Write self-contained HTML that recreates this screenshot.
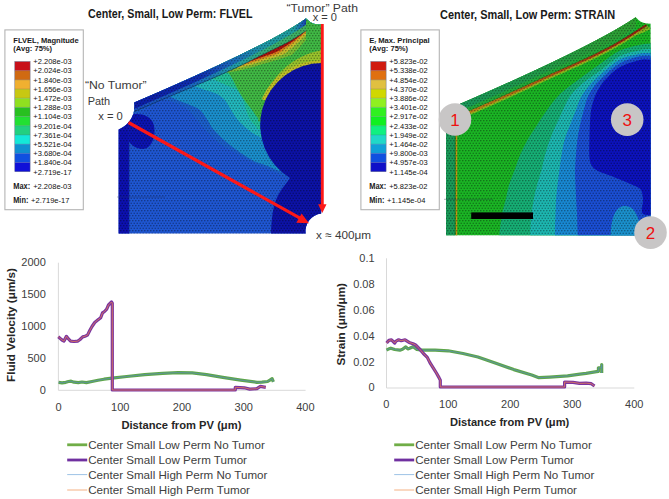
<!DOCTYPE html><html><head><meta charset="utf-8"><style>html,body{margin:0;padding:0;background:#fff;overflow:hidden;width:669px;height:499px;}svg{display:block;}text{font-family:"Liberation Sans",sans-serif;}</style></head><body>
<svg width="669" height="499" viewBox="0 0 669 499">
<defs>
<clipPath id="clip1"><path d="M134.2,102.6 Q269,45 306,18.4 L309,21 Q312,24.6 321.2,24.6 L321.2,213.6 A17.5,17.5 0 0 0 305.7,233.4 L118.6,233.4 L118.6,129.4 C127,126 136,117 134.2,102.6 Z"/></clipPath>
<clipPath id="limeclip"><circle cx="335" cy="125" r="76"/></clipPath>
<clipPath id="clip2"><path d="M446,110.6 L455,106.0 Q592.2,46.7 635.7,17.2 L639,20.5 Q642,23.6 650.6,23.8 L650.6,235.2 L446,235.2 Z"/></clipPath>
<pattern id="mesh" width="3" height="5" patternUnits="userSpaceOnUse"><circle cx="0.75" cy="0.75" r="0.8" fill="#000" fill-opacity="0.36"/><circle cx="2.25" cy="3.25" r="0.8" fill="#000" fill-opacity="0.36"/></pattern>
<linearGradient id="topg1" gradientUnits="userSpaceOnUse" x1="134" y1="0" x2="306" y2="0"><stop offset="0" stop-color="#0c1ca8"/><stop offset="0.38" stop-color="#1030b0"/><stop offset="0.55" stop-color="#1a64bc"/><stop offset="0.75" stop-color="#2098a8"/><stop offset="0.93" stop-color="#20a0a0"/><stop offset="0.98" stop-color="#1860b8"/><stop offset="1" stop-color="#1840b0"/></linearGradient>
<linearGradient id="topg1b" gradientUnits="userSpaceOnUse" x1="134" y1="0" x2="306" y2="0"><stop offset="0" stop-color="#1a4cc0"/><stop offset="0.38" stop-color="#1a6cc0"/><stop offset="0.6" stop-color="#20a0a8"/><stop offset="0.8" stop-color="#38b070"/><stop offset="1" stop-color="#40b060"/></linearGradient>
<linearGradient id="topg2" gradientUnits="userSpaceOnUse" x1="446" y1="0" x2="640" y2="0"><stop offset="0" stop-color="#18985e"/><stop offset="0.5" stop-color="#229c48"/><stop offset="1" stop-color="#30a030"/></linearGradient>
<linearGradient id="redg2" gradientUnits="userSpaceOnUse" x1="446" y1="0" x2="640" y2="0"><stop offset="0" stop-color="#b89018"/><stop offset="0.5" stop-color="#a85a14"/><stop offset="1" stop-color="#902010"/></linearGradient>
</defs>
<rect width="669" height="499" fill="#fff"/>
<rect x="4.9" y="29.9" width="78.4" height="179.8" fill="#fff" stroke="#b4b4b4" stroke-width="1.1"/>
<text x="13.3" y="42.7" font-size="7.9" font-weight="bold" fill="#1a1a1a" textLength="65.4" lengthAdjust="spacingAndGlyphs">FLVEL, Magnitude</text>
<text x="13.3" y="51.2" font-size="7.9" font-weight="bold" fill="#1a1a1a" textLength="38.8" lengthAdjust="spacingAndGlyphs">(Avg: 75%)</text>
<rect x="14.8" y="61.50" width="15.3" height="9.23" fill="#c8101a"/>
<rect x="14.8" y="70.68" width="15.3" height="9.23" fill="#d06a12"/>
<rect x="14.8" y="79.87" width="15.3" height="9.23" fill="#f0b030"/>
<rect x="14.8" y="89.05" width="15.3" height="9.23" fill="#c8c812"/>
<rect x="14.8" y="98.23" width="15.3" height="9.23" fill="#90e020"/>
<rect x="14.8" y="107.42" width="15.3" height="9.23" fill="#28c020"/>
<rect x="14.8" y="116.60" width="15.3" height="9.23" fill="#22e032"/>
<rect x="14.8" y="125.78" width="15.3" height="9.23" fill="#22d080"/>
<rect x="14.8" y="134.97" width="15.3" height="9.23" fill="#14e8d8"/>
<rect x="14.8" y="144.15" width="15.3" height="9.23" fill="#1090d0"/>
<rect x="14.8" y="153.33" width="15.3" height="9.23" fill="#1050e0"/>
<rect x="14.8" y="162.52" width="15.3" height="9.23" fill="#1010d8"/>
<rect x="14.8" y="61.5" width="15.3" height="110.20" fill="none" stroke="#6a7090" stroke-width="0.5"/>
<line x1="14.8" x2="30.1" y1="70.68" y2="70.68" stroke="#506080" stroke-opacity="0.5" stroke-width="0.5"/>
<line x1="14.8" x2="30.1" y1="79.87" y2="79.87" stroke="#506080" stroke-opacity="0.5" stroke-width="0.5"/>
<line x1="14.8" x2="30.1" y1="89.05" y2="89.05" stroke="#506080" stroke-opacity="0.5" stroke-width="0.5"/>
<line x1="14.8" x2="30.1" y1="98.23" y2="98.23" stroke="#506080" stroke-opacity="0.5" stroke-width="0.5"/>
<line x1="14.8" x2="30.1" y1="107.42" y2="107.42" stroke="#506080" stroke-opacity="0.5" stroke-width="0.5"/>
<line x1="14.8" x2="30.1" y1="116.60" y2="116.60" stroke="#506080" stroke-opacity="0.5" stroke-width="0.5"/>
<line x1="14.8" x2="30.1" y1="125.78" y2="125.78" stroke="#506080" stroke-opacity="0.5" stroke-width="0.5"/>
<line x1="14.8" x2="30.1" y1="134.97" y2="134.97" stroke="#506080" stroke-opacity="0.5" stroke-width="0.5"/>
<line x1="14.8" x2="30.1" y1="144.15" y2="144.15" stroke="#506080" stroke-opacity="0.5" stroke-width="0.5"/>
<line x1="14.8" x2="30.1" y1="153.33" y2="153.33" stroke="#506080" stroke-opacity="0.5" stroke-width="0.5"/>
<line x1="14.8" x2="30.1" y1="162.52" y2="162.52" stroke="#506080" stroke-opacity="0.5" stroke-width="0.5"/>
<text x="33.3" y="64.30" font-size="7.9" fill="#111" textLength="38.3" lengthAdjust="spacingAndGlyphs">+2.208e-03</text>
<text x="33.3" y="73.48" font-size="7.9" fill="#111" textLength="38.3" lengthAdjust="spacingAndGlyphs">+2.024e-03</text>
<text x="33.3" y="82.67" font-size="7.9" fill="#111" textLength="38.3" lengthAdjust="spacingAndGlyphs">+1.840e-03</text>
<text x="33.3" y="91.85" font-size="7.9" fill="#111" textLength="38.3" lengthAdjust="spacingAndGlyphs">+1.656e-03</text>
<text x="33.3" y="101.03" font-size="7.9" fill="#111" textLength="38.3" lengthAdjust="spacingAndGlyphs">+1.472e-03</text>
<text x="33.3" y="110.22" font-size="7.9" fill="#111" textLength="38.3" lengthAdjust="spacingAndGlyphs">+1.288e-03</text>
<text x="33.3" y="119.40" font-size="7.9" fill="#111" textLength="38.3" lengthAdjust="spacingAndGlyphs">+1.104e-03</text>
<text x="33.3" y="128.58" font-size="7.9" fill="#111" textLength="38.3" lengthAdjust="spacingAndGlyphs">+9.201e-04</text>
<text x="33.3" y="137.77" font-size="7.9" fill="#111" textLength="38.3" lengthAdjust="spacingAndGlyphs">+7.361e-04</text>
<text x="33.3" y="146.95" font-size="7.9" fill="#111" textLength="38.3" lengthAdjust="spacingAndGlyphs">+5.521e-04</text>
<text x="33.3" y="156.13" font-size="7.9" fill="#111" textLength="38.3" lengthAdjust="spacingAndGlyphs">+3.680e-04</text>
<text x="33.3" y="165.32" font-size="7.9" fill="#111" textLength="38.3" lengthAdjust="spacingAndGlyphs">+1.840e-04</text>
<text x="33.3" y="174.50" font-size="7.9" fill="#111" textLength="38.3" lengthAdjust="spacingAndGlyphs">+2.719e-17</text>
<text x="13.2" y="188.5" font-size="8.2" font-weight="bold" fill="#1a1a1a" textLength="17" lengthAdjust="spacingAndGlyphs">Max:</text>
<text x="33.2" y="188.5" font-size="7.9" fill="#111" textLength="38.3" lengthAdjust="spacingAndGlyphs">+2.208e-03</text>
<text x="13.2" y="202.5" font-size="8.2" font-weight="bold" fill="#1a1a1a" textLength="15.2" lengthAdjust="spacingAndGlyphs">Min:</text>
<text x="31.1" y="202.5" font-size="7.9" fill="#111" textLength="38.3" lengthAdjust="spacingAndGlyphs">+2.719e-17</text>
<rect x="360.9" y="29.9" width="78.4" height="179.8" fill="#fff" stroke="#b4b4b4" stroke-width="1.1"/>
<text x="369.3" y="42.7" font-size="7.9" font-weight="bold" fill="#1a1a1a" textLength="60.4" lengthAdjust="spacingAndGlyphs">E<tspan font-size="4.5" dy="1.5">r</tspan><tspan dy="-1.5"> Max. Principal</tspan></text>
<text x="369.3" y="51.2" font-size="7.9" font-weight="bold" fill="#1a1a1a" textLength="38.8" lengthAdjust="spacingAndGlyphs">(Avg: 75%)</text>
<rect x="370.8" y="61.50" width="15.3" height="9.23" fill="#d01a10"/>
<rect x="370.8" y="70.68" width="15.3" height="9.23" fill="#e07010"/>
<rect x="370.8" y="79.87" width="15.3" height="9.23" fill="#e0c040"/>
<rect x="370.8" y="89.05" width="15.3" height="9.23" fill="#d0d800"/>
<rect x="370.8" y="98.23" width="15.3" height="9.23" fill="#90f020"/>
<rect x="370.8" y="107.42" width="15.3" height="9.23" fill="#30f020"/>
<rect x="370.8" y="116.60" width="15.3" height="9.23" fill="#10f020"/>
<rect x="370.8" y="125.78" width="15.3" height="9.23" fill="#10f080"/>
<rect x="370.8" y="134.97" width="15.3" height="9.23" fill="#20d8c8"/>
<rect x="370.8" y="144.15" width="15.3" height="9.23" fill="#10a0d8"/>
<rect x="370.8" y="153.33" width="15.3" height="9.23" fill="#1050e0"/>
<rect x="370.8" y="162.52" width="15.3" height="9.23" fill="#1010c8"/>
<rect x="370.8" y="61.5" width="15.3" height="110.20" fill="none" stroke="#6a7090" stroke-width="0.5"/>
<line x1="370.8" x2="386.1" y1="70.68" y2="70.68" stroke="#506080" stroke-opacity="0.5" stroke-width="0.5"/>
<line x1="370.8" x2="386.1" y1="79.87" y2="79.87" stroke="#506080" stroke-opacity="0.5" stroke-width="0.5"/>
<line x1="370.8" x2="386.1" y1="89.05" y2="89.05" stroke="#506080" stroke-opacity="0.5" stroke-width="0.5"/>
<line x1="370.8" x2="386.1" y1="98.23" y2="98.23" stroke="#506080" stroke-opacity="0.5" stroke-width="0.5"/>
<line x1="370.8" x2="386.1" y1="107.42" y2="107.42" stroke="#506080" stroke-opacity="0.5" stroke-width="0.5"/>
<line x1="370.8" x2="386.1" y1="116.60" y2="116.60" stroke="#506080" stroke-opacity="0.5" stroke-width="0.5"/>
<line x1="370.8" x2="386.1" y1="125.78" y2="125.78" stroke="#506080" stroke-opacity="0.5" stroke-width="0.5"/>
<line x1="370.8" x2="386.1" y1="134.97" y2="134.97" stroke="#506080" stroke-opacity="0.5" stroke-width="0.5"/>
<line x1="370.8" x2="386.1" y1="144.15" y2="144.15" stroke="#506080" stroke-opacity="0.5" stroke-width="0.5"/>
<line x1="370.8" x2="386.1" y1="153.33" y2="153.33" stroke="#506080" stroke-opacity="0.5" stroke-width="0.5"/>
<line x1="370.8" x2="386.1" y1="162.52" y2="162.52" stroke="#506080" stroke-opacity="0.5" stroke-width="0.5"/>
<text x="389.3" y="64.30" font-size="7.9" fill="#111" textLength="38.3" lengthAdjust="spacingAndGlyphs">+5.823e-02</text>
<text x="389.3" y="73.48" font-size="7.9" fill="#111" textLength="38.3" lengthAdjust="spacingAndGlyphs">+5.338e-02</text>
<text x="389.3" y="82.67" font-size="7.9" fill="#111" textLength="38.3" lengthAdjust="spacingAndGlyphs">+4.854e-02</text>
<text x="389.3" y="91.85" font-size="7.9" fill="#111" textLength="38.3" lengthAdjust="spacingAndGlyphs">+4.370e-02</text>
<text x="389.3" y="101.03" font-size="7.9" fill="#111" textLength="38.3" lengthAdjust="spacingAndGlyphs">+3.886e-02</text>
<text x="389.3" y="110.22" font-size="7.9" fill="#111" textLength="38.3" lengthAdjust="spacingAndGlyphs">+3.401e-02</text>
<text x="389.3" y="119.40" font-size="7.9" fill="#111" textLength="38.3" lengthAdjust="spacingAndGlyphs">+2.917e-02</text>
<text x="389.3" y="128.58" font-size="7.9" fill="#111" textLength="38.3" lengthAdjust="spacingAndGlyphs">+2.433e-02</text>
<text x="389.3" y="137.77" font-size="7.9" fill="#111" textLength="38.3" lengthAdjust="spacingAndGlyphs">+1.949e-02</text>
<text x="389.3" y="146.95" font-size="7.9" fill="#111" textLength="38.3" lengthAdjust="spacingAndGlyphs">+1.464e-02</text>
<text x="389.3" y="156.13" font-size="7.9" fill="#111" textLength="38.3" lengthAdjust="spacingAndGlyphs">+9.800e-03</text>
<text x="389.3" y="165.32" font-size="7.9" fill="#111" textLength="38.3" lengthAdjust="spacingAndGlyphs">+4.957e-03</text>
<text x="389.3" y="174.50" font-size="7.9" fill="#111" textLength="38.3" lengthAdjust="spacingAndGlyphs">+1.145e-04</text>
<text x="369.2" y="188.5" font-size="8.2" font-weight="bold" fill="#1a1a1a" textLength="17" lengthAdjust="spacingAndGlyphs">Max:</text>
<text x="389.2" y="188.5" font-size="7.9" fill="#111" textLength="38.3" lengthAdjust="spacingAndGlyphs">+5.823e-02</text>
<text x="369.2" y="202.5" font-size="8.2" font-weight="bold" fill="#1a1a1a" textLength="15.2" lengthAdjust="spacingAndGlyphs">Min:</text>
<text x="387.1" y="202.5" font-size="7.9" fill="#111" textLength="38.3" lengthAdjust="spacingAndGlyphs">+1.145e-04</text>
<g clip-path="url(#clip1)">
<rect x="110" y="10" width="220" height="230" fill="#1e56d2"/>
<path d="M130.0,114.0 C131.7,113.5 136.3,112.5 140.0,111.0 C143.7,109.5 148.2,106.8 152.0,105.0 C155.8,103.2 159.0,100.3 163.0,100.0 C167.0,99.7 171.8,101.3 176.0,103.0 C180.2,104.7 184.5,107.2 188.0,110.0 C191.5,112.8 194.1,116.7 197.0,120.0 C199.9,123.3 201.4,125.8 205.5,130.0 C209.6,134.2 216.4,141.2 221.5,145.0 C226.6,148.8 231.7,150.5 236.0,153.0 C240.3,155.5 243.5,157.8 247.5,160.0 C251.5,162.2 255.4,164.0 260.0,166.0 C264.6,168.0 269.7,170.0 275.0,172.0 C280.3,174.0 282.8,176.7 292.0,178.0 C301.2,179.3 323.7,179.7 330.0,180.0 L340,180.0 L340,-10 L130.0,-10 Z" fill="#1c60cc"/>
<path d="M140.0,102.0 C141.7,101.3 145.8,99.2 150.0,98.0 C154.2,96.8 160.8,94.8 165.0,95.0 C169.2,95.2 170.8,97.3 175.0,99.0 C179.2,100.7 185.8,103.2 190.0,105.0 C194.2,106.8 197.1,107.5 200.0,110.0 C202.9,112.5 205.1,116.7 207.4,120.0 C209.7,123.3 210.2,125.8 214.0,130.0 C217.8,134.2 223.7,140.0 230.0,145.0 C236.3,150.0 246.2,156.7 252.0,160.0 C257.8,163.3 258.3,162.5 265.0,165.0 C271.7,167.5 281.2,172.8 292.0,175.0 C302.8,177.2 323.7,177.5 330.0,178.0 L340,178.0 L340,-10 L140.0,-10 Z" fill="#1a8ecc"/>
<path d="M160.0,86.0 C162.5,85.3 169.3,82.0 175.0,82.0 C180.7,82.0 189.0,84.7 194.0,86.0 C199.0,87.3 201.3,88.8 205.0,90.0 C208.7,91.2 212.7,91.8 216.0,93.5 C219.3,95.2 222.2,97.2 224.7,100.0 C227.2,102.8 228.8,106.7 231.0,110.0 C233.2,113.3 235.0,116.7 237.9,120.0 C240.8,123.3 245.2,127.3 248.6,130.0 C251.9,132.7 254.4,134.3 258.0,136.0 C261.6,137.7 258.0,139.3 270.0,140.0 C282.0,140.7 320.0,140.0 330.0,140.0 L340,140.0 L340,-10 L160.0,-10 Z" fill="#22b6bc"/>
<path d="M195.0,74.0 C196.7,74.3 201.7,75.0 205.0,76.0 C208.3,77.0 211.2,78.3 215.0,80.0 C218.8,81.7 224.3,84.3 228.0,86.0 C231.7,87.7 234.5,87.7 237.0,90.0 C239.5,92.3 241.5,96.7 243.0,100.0 C244.5,103.3 244.8,106.7 246.0,110.0 C247.2,113.3 248.7,117.3 250.4,120.0 C252.1,122.7 253.6,124.3 256.0,126.0 C258.4,127.7 252.7,129.3 265.0,130.0 C277.3,130.7 319.2,130.0 330.0,130.0 L340,130.0 L340,-10 L195.0,-10 Z" fill="#22c098"/>
<path d="M210.0,66.0 C212.0,66.3 218.7,66.5 222.0,68.0 C225.3,69.5 227.7,72.0 230.0,75.0 C232.3,78.0 233.8,82.2 236.0,86.0 C238.2,89.8 240.3,94.0 243.0,98.0 C245.7,102.0 249.5,106.7 252.0,110.0 C254.5,113.3 255.8,116.0 258.0,118.0 C260.2,120.0 253.0,121.3 265.0,122.0 C277.0,122.7 319.2,122.0 330.0,122.0 L340,122.0 L340,-10 L210.0,-10 Z" fill="#40b844"/>
<path d="M262,100 L262,40 L330,40 L330,100 Z" fill="#98c22c" clip-path="url(#limeclip)"/>
<path d="M226.4,72.2 L228.8,71.1 L231.1,70.1 L233.4,69.0 L235.7,67.9 L238.0,66.9 L240.2,65.8 L242.4,64.8 L244.6,63.7 L246.7,62.7 L248.8,61.7 L250.9,60.6 L252.9,59.6 L254.9,58.6 L256.9,57.6 L258.8,56.6 L260.8,55.6 L262.6,54.7 L264.5,53.8 L266.3,52.9 L268.1,52.0 L269.9,51.2 L271.6,50.3 L273.3,49.5 L275.0,48.7 L276.6,47.9 L278.3,47.1 L279.8,46.3 L281.4,45.6 L282.9,44.8 L284.4,44.0 L285.9,43.3 L287.3,42.5 L288.7,41.7 L290.1,41.0 L291.4,40.2 L292.7,39.5 L294.0,38.7 L295.2,37.9 L296.4,37.2 L297.6,36.4 L298.8,35.7 L299.9,35.0 L301.0,34.2 L302.1,33.5 L303.1,32.8 L304.1,32.1 L305.1,31.5 L306.0,30.8 L306.0,39.9 L305.1,41.0 L304.1,42.1 L303.1,43.2 L302.1,44.4 L301.0,45.5 L299.9,46.7 L298.8,47.9 L297.6,49.1 L296.4,50.4 L295.2,51.6 L294.0,52.9 L292.7,54.2 L291.4,55.1 L290.1,55.6 L288.7,56.1 L287.3,56.6 L285.9,57.1 L284.4,57.6 L282.9,58.1 L281.4,58.6 L279.8,59.1 L278.3,59.6 L276.6,60.0 L275.0,60.5 L273.3,61.0 L271.6,61.5 L269.9,62.0 L268.1,62.5 L266.3,63.0 L264.5,63.5 L262.6,64.1 L260.8,64.6 L258.8,65.2 L256.9,65.8 L254.9,66.4 L252.9,66.9 L250.9,67.5 L248.8,68.1 L246.7,68.6 L244.6,69.2 L242.4,69.7 L240.2,70.2 L238.0,70.7 L235.7,71.2 L233.4,71.6 L231.1,72.0 L228.8,72.3 L226.4,72.4 Z" fill="#7cbc34"/>
<path d="M235.7,67.9 L238.0,66.9 L240.2,65.8 L242.4,64.8 L244.6,63.7 L246.7,62.7 L248.8,61.7 L250.9,60.6 L252.9,59.6 L254.9,58.6 L256.9,57.6 L258.8,56.6 L260.8,55.6 L262.6,54.7 L264.5,53.8 L266.3,52.9 L268.1,52.0 L269.9,51.2 L271.6,50.3 L273.3,49.5 L275.0,48.7 L276.6,47.9 L278.3,47.1 L279.8,46.3 L281.4,45.6 L282.9,44.8 L284.4,44.0 L285.9,43.3 L287.3,42.5 L288.7,41.7 L290.1,41.0 L291.4,40.2 L292.7,39.5 L294.0,38.7 L295.2,37.9 L296.4,37.2 L297.6,36.4 L298.8,35.7 L299.9,35.0 L301.0,34.2 L302.1,33.5 L303.1,32.8 L304.1,32.1 L305.1,31.5 L306.0,30.8 L306.0,35.1 L305.1,36.1 L304.1,37.0 L303.1,38.0 L302.1,39.0 L301.0,40.0 L299.9,41.0 L298.8,42.0 L297.6,43.1 L296.4,44.1 L295.2,45.2 L294.0,46.3 L292.7,47.4 L291.4,48.4 L290.1,49.5 L288.7,50.6 L287.3,51.7 L285.9,52.8 L284.4,53.9 L282.9,54.6 L281.4,55.1 L279.8,55.7 L278.3,56.2 L276.6,56.7 L275.0,57.2 L273.3,57.8 L271.6,58.3 L269.9,58.8 L268.1,59.4 L266.3,59.9 L264.5,60.5 L262.6,61.1 L260.8,61.7 L258.8,62.3 L256.9,63.0 L254.9,63.6 L252.9,64.2 L250.9,64.8 L248.8,65.4 L246.7,66.0 L244.6,66.6 L242.4,67.2 L240.2,67.7 L238.0,68.2 L235.7,68.6 Z" fill="#c4bc2c"/>
<path d="M242.4,64.8 L244.6,63.7 L246.7,62.7 L248.8,61.7 L250.9,60.6 L252.9,59.6 L254.9,58.6 L256.9,57.6 L258.8,56.6 L260.8,55.6 L262.6,54.7 L264.5,53.8 L266.3,52.9 L268.1,52.0 L269.9,51.2 L271.6,50.3 L273.3,49.5 L275.0,48.7 L276.6,47.9 L278.3,47.1 L279.8,46.3 L281.4,45.6 L282.9,44.8 L284.4,44.0 L285.9,43.3 L287.3,42.5 L288.7,41.7 L290.1,41.0 L291.4,40.2 L292.7,39.5 L294.0,38.7 L295.2,37.9 L296.4,37.2 L297.6,36.4 L298.8,35.7 L299.9,35.0 L301.0,34.2 L302.1,33.5 L303.1,32.8 L304.1,32.1 L305.1,31.5 L306.0,30.8 L306.0,32.0 L305.1,32.9 L304.1,33.8 L303.1,34.7 L302.1,35.7 L301.0,36.6 L299.9,37.5 L298.8,38.5 L297.6,39.5 L296.4,40.4 L295.2,41.4 L294.0,42.4 L292.7,43.4 L291.4,44.4 L290.1,45.4 L288.7,46.4 L287.3,47.4 L285.9,48.5 L284.4,49.5 L282.9,50.5 L281.4,51.5 L279.8,52.5 L278.3,53.6 L276.6,54.2 L275.0,54.8 L273.3,55.3 L271.6,55.9 L269.9,56.5 L268.1,57.0 L266.3,57.6 L264.5,58.2 L262.6,58.9 L260.8,59.5 L258.8,60.2 L256.9,60.8 L254.9,61.5 L252.9,62.1 L250.9,62.8 L248.8,63.4 L246.7,64.0 L244.6,64.5 L242.4,64.9 Z" fill="#d8801e"/>
<path d="M250.9,60.6 L252.9,59.6 L254.9,58.6 L256.9,57.6 L258.8,56.6 L260.8,55.6 L262.6,54.7 L264.5,53.8 L266.3,52.9 L268.1,52.0 L269.9,51.2 L271.6,50.3 L273.3,49.5 L275.0,48.7 L276.6,47.9 L278.3,47.1 L279.8,46.3 L281.4,45.6 L282.9,44.8 L284.4,44.0 L285.9,43.3 L287.3,42.5 L288.7,41.7 L290.1,41.0 L291.4,40.2 L292.7,39.5 L294.0,38.7 L295.2,37.9 L296.4,37.2 L297.6,36.4 L298.8,35.7 L299.9,35.0 L301.0,34.2 L302.1,33.5 L303.1,32.8 L303.1,33.1 L302.1,34.0 L301.0,34.9 L299.9,35.8 L298.8,36.7 L297.6,37.7 L296.4,38.6 L295.2,39.5 L294.0,40.5 L292.7,41.4 L291.4,42.3 L290.1,43.3 L288.7,44.2 L287.3,45.2 L285.9,46.1 L284.4,47.0 L282.9,48.0 L281.4,48.9 L279.8,49.9 L278.3,50.9 L276.6,51.8 L275.0,52.6 L273.3,53.2 L271.6,53.8 L269.9,54.4 L268.1,55.0 L266.3,55.6 L264.5,56.3 L262.6,56.9 L260.8,57.6 L258.8,58.3 L256.9,59.0 L254.9,59.7 L252.9,60.3 L250.9,60.9 Z" fill="#a8140e"/>
<path d="M264,100 A62,62 0 0 1 322,63" fill="none" stroke="#c0c028" stroke-width="5"/>
<path d="M340,63 L322,63 A62,62 0 0 0 290,178 C286,184 282,188 280,192 C275,200 272,209 271,234 L340,234 Z" fill="#0c12a6"/>
<rect x="110" y="100" width="19" height="140" fill="#0c10b0"/>
<line x1="129.3" y1="128" x2="129.3" y2="240" stroke="#1a3cb8" stroke-width="0.8"/>
<path d="M128,116 C136,112 150,114 153.5,124 C156,133 154,143 147,148 C140,151 132,147 128,140 Z" fill="#0c14b2"/>
<path d="M134.2,99.6 L137.6,98.2 L140.9,96.7 L144.2,95.3 L147.4,93.9 L150.7,92.5 L153.9,91.1 L157.0,89.8 L160.2,88.4 L163.3,87.0 L166.4,85.7 L169.4,84.3 L172.4,83.0 L175.4,81.7 L178.4,80.4 L181.3,79.1 L184.2,77.8 L187.1,76.5 L189.9,75.2 L192.7,74.0 L195.5,72.7 L198.2,71.5 L200.9,70.3 L203.6,69.0 L206.3,67.8 L208.9,66.6 L211.5,65.4 L214.0,64.3 L216.6,63.1 L219.1,61.9 L221.5,60.8 L224.0,59.6 L226.4,58.5 L228.8,57.4 L231.1,56.2 L233.4,55.1 L235.7,54.0 L238.0,53.0 L240.2,51.9 L242.4,50.8 L244.6,49.8 L246.7,48.7 L248.8,47.7 L250.9,46.6 L252.9,45.6 L254.9,44.6 L256.9,43.6 L258.8,42.6 L260.8,41.6 L262.6,40.7 L264.5,39.7 L266.3,38.8 L268.1,37.8 L269.9,36.9 L271.6,36.0 L273.3,35.1 L275.0,34.2 L276.6,33.3 L278.3,32.4 L279.8,31.5 L281.4,30.6 L282.9,29.8 L284.4,28.9 L285.9,28.1 L287.3,27.3 L288.7,26.5 L290.1,25.7 L291.4,24.9 L292.7,24.1 L294.0,23.3 L295.2,22.5 L296.4,21.8 L297.6,21.0 L298.8,20.3 L299.9,19.6 L301.0,18.8 L302.1,18.1 L303.1,17.4 L304.1,16.7 L305.1,16.1 L306.0,15.4 L306.0,30.8 L305.1,31.5 L304.1,32.1 L303.1,32.8 L302.1,33.5 L301.0,34.2 L299.9,35.0 L298.8,35.7 L297.6,36.4 L296.4,37.2 L295.2,37.9 L294.0,38.7 L292.7,39.5 L291.4,40.2 L290.1,41.0 L288.7,41.7 L287.3,42.5 L285.9,43.3 L284.4,44.0 L282.9,44.8 L281.4,45.6 L279.8,46.3 L278.3,47.1 L276.6,47.9 L275.0,48.7 L273.3,49.5 L271.6,50.3 L269.9,51.2 L268.1,52.0 L266.3,52.9 L264.5,53.8 L262.6,54.7 L260.8,55.6 L258.8,56.6 L256.9,57.6 L254.9,58.6 L252.9,59.6 L250.9,60.6 L248.8,61.7 L246.7,62.7 L244.6,63.7 L242.4,64.8 L240.2,65.8 L238.0,66.9 L235.7,67.9 L233.4,69.0 L231.1,70.1 L228.8,71.1 L226.4,72.2 L224.0,73.3 L221.5,74.4 L219.1,75.5 L216.6,76.6 L214.0,77.7 L211.5,78.8 L208.9,79.9 L206.3,81.0 L203.6,82.2 L200.9,83.3 L198.2,84.4 L195.5,85.6 L192.7,86.8 L189.9,88.0 L187.1,89.1 L184.2,90.3 L181.3,91.6 L178.4,92.8 L175.4,94.0 L172.4,95.3 L169.4,96.5 L166.4,97.8 L163.3,99.1 L160.2,100.4 L157.0,101.8 L153.9,103.1 L150.7,104.5 L147.4,105.9 L144.2,107.3 L140.9,108.7 L137.6,110.2 L134.2,111.6 Z" fill="url(#topg1b)"/>
<path d="M134.2,99.6 L137.6,98.2 L140.9,96.7 L144.2,95.3 L147.4,93.9 L150.7,92.5 L153.9,91.1 L157.0,89.8 L160.2,88.4 L163.3,87.0 L166.4,85.7 L169.4,84.3 L172.4,83.0 L175.4,81.7 L178.4,80.4 L181.3,79.1 L184.2,77.8 L187.1,76.5 L189.9,75.2 L192.7,74.0 L195.5,72.7 L198.2,71.5 L200.9,70.3 L203.6,69.0 L206.3,67.8 L208.9,66.6 L211.5,65.4 L214.0,64.3 L216.6,63.1 L219.1,61.9 L221.5,60.8 L224.0,59.6 L226.4,58.5 L228.8,57.4 L231.1,56.2 L233.4,55.1 L235.7,54.0 L238.0,53.0 L240.2,51.9 L242.4,50.8 L244.6,49.8 L246.7,48.7 L248.8,47.7 L250.9,46.6 L252.9,45.6 L254.9,44.6 L256.9,43.6 L258.8,42.6 L260.8,41.6 L262.6,40.7 L264.5,39.7 L266.3,38.8 L268.1,37.8 L269.9,36.9 L271.6,36.0 L273.3,35.1 L275.0,34.2 L276.6,33.3 L278.3,32.4 L279.8,31.5 L281.4,30.6 L282.9,29.8 L284.4,28.9 L285.9,28.1 L287.3,27.3 L288.7,26.5 L290.1,25.7 L291.4,24.9 L292.7,24.1 L294.0,23.3 L295.2,22.5 L296.4,21.8 L297.6,21.0 L298.8,20.3 L299.9,19.6 L301.0,18.8 L302.1,18.1 L303.1,17.4 L304.1,16.7 L305.1,16.1 L306.0,15.4 L306.0,24.6 L305.1,25.3 L304.1,25.9 L303.1,26.6 L302.1,27.3 L301.0,28.0 L299.9,28.8 L298.8,29.5 L297.6,30.2 L296.4,31.0 L295.2,31.7 L294.0,32.5 L292.7,33.3 L291.4,34.1 L290.1,34.9 L288.7,35.7 L287.3,36.5 L285.9,37.3 L284.4,38.1 L282.9,39.0 L281.4,39.8 L279.8,40.7 L278.3,41.6 L276.6,42.5 L275.0,43.4 L273.3,44.3 L271.6,45.2 L269.9,46.1 L268.1,47.0 L266.3,48.0 L264.5,48.9 L262.6,49.9 L260.8,50.8 L258.8,51.8 L256.9,52.8 L254.9,53.8 L252.9,54.8 L250.9,55.8 L248.8,56.9 L246.7,57.9 L244.6,59.0 L242.4,60.0 L240.2,61.1 L238.0,62.2 L235.7,63.2 L233.4,64.3 L231.1,65.4 L228.8,66.6 L226.4,67.7 L224.0,68.8 L221.5,70.0 L219.1,71.1 L216.6,72.3 L214.0,73.5 L211.5,74.6 L208.9,75.8 L206.3,77.0 L203.6,78.2 L200.9,79.5 L198.2,80.7 L195.5,81.9 L192.7,83.2 L189.9,84.4 L187.1,85.7 L184.2,87.0 L181.3,88.3 L178.4,89.6 L175.4,90.9 L172.4,92.2 L169.4,93.5 L166.4,94.9 L163.3,96.2 L160.2,97.6 L157.0,99.0 L153.9,100.3 L150.7,101.7 L147.4,103.1 L144.2,104.5 L140.9,105.9 L137.6,107.4 L134.2,108.8 Z" fill="url(#topg1)"/>
<path d="M134.2,111.6 L137.6,110.2 L140.9,108.7 L144.2,107.3 L147.4,105.9 L150.7,104.5 L153.9,103.1 L157.0,101.8 L160.2,100.4 L163.3,99.1 L166.4,97.8 L169.4,96.5 L172.4,95.3 L175.4,94.0 L178.4,92.8 L181.3,91.6 L184.2,90.3 L187.1,89.1 L189.9,88.0 L192.7,86.8 L195.5,85.6 L198.2,84.4 L200.9,83.3 L203.6,82.2 L206.3,81.0 L208.9,79.9 L211.5,78.8 L214.0,77.7 L216.6,76.6 L219.1,75.5 L221.5,74.4 L224.0,73.3 L226.4,72.2 L228.8,71.1 L231.1,70.1 L233.4,69.0 L235.7,67.9 L238.0,66.9 L240.2,65.8 L242.4,64.8 L244.6,63.7 L246.7,62.7 L248.8,61.7 L250.9,60.6 L252.9,59.6 L254.9,58.6 L256.9,57.6 L258.8,56.6 L260.8,55.6 L262.6,54.7 L264.5,53.8 L266.3,52.9 L268.1,52.0 L269.9,51.2 L271.6,50.3 L273.3,49.5 L275.0,48.7 L276.6,47.9 L278.3,47.1 L279.8,46.3 L281.4,45.6 L282.9,44.8 L284.4,44.0 L285.9,43.3 L287.3,42.5 L288.7,41.7 L290.1,41.0 L291.4,40.2 L292.7,39.5 L294.0,38.7 L295.2,37.9 L296.4,37.2 L297.6,36.4 L298.8,35.7 L299.9,35.0 L301.0,34.2 L302.1,33.5 L303.1,32.8 L304.1,32.1 L305.1,31.5 L306.0,30.8" fill="none" stroke="#0a1a40" stroke-opacity="0.55" stroke-width="0.9"/>
<rect x="110" y="10" width="220" height="230" fill="url(#mesh)"/>
</g>
<line x1="117" y1="197" x2="165" y2="197" stroke="#203060" stroke-opacity="0.5" stroke-width="0.7"/>
<line x1="128.5" y1="122.5" x2="300" y2="218.2" stroke="#fc1818" stroke-width="3.2"/>
<polygon points="309,223.2 296.3,222.7 301.6,213.4" fill="#fc1818"/>
<line x1="322.3" y1="24" x2="322.3" y2="206" stroke="#fc1818" stroke-width="2.9"/>
<polygon points="322.3,213 318.1,204.2 326.5,204.2" fill="#fc1818"/>
<g clip-path="url(#clip2)">
<rect x="440" y="10" width="220" height="230" fill="#1ab424"/>
<path d="M660.0,42.0 C658.3,42.2 653.3,43.0 650.0,43.5 C646.7,44.0 645.0,43.6 640.0,44.8 C635.0,46.0 626.7,47.4 620.0,50.6 C613.3,53.8 607.0,59.1 600.0,64.0 C593.0,68.9 584.7,75.0 578.0,80.0 C571.3,85.0 565.2,89.0 560.0,94.0 C554.8,99.0 550.8,104.8 547.0,110.0 C543.2,115.2 540.2,120.0 537.0,125.0 C533.8,130.0 530.3,135.0 527.5,140.0 C524.7,145.0 522.1,150.0 520.0,155.0 C517.9,160.0 516.4,165.0 514.6,170.0 C512.8,175.0 510.5,180.0 509.0,185.0 C507.5,190.0 506.8,195.2 505.6,200.0 C504.4,204.8 502.9,209.3 502.0,214.0 C501.1,218.7 500.5,223.7 500.0,228.0 C499.5,232.3 499.2,238.0 499.0,240.0 L660,240.0 L660,42.0 Z" fill="#16ae74"/>
<path d="M660.0,48.0 C658.3,48.2 653.3,48.6 650.0,49.0 C646.7,49.4 645.0,49.0 640.0,50.2 C635.0,51.4 626.7,52.6 620.0,56.0 C613.3,59.4 606.2,66.3 600.0,70.8 C593.8,75.3 588.0,78.8 583.0,83.0 C578.0,87.2 573.3,91.5 570.0,96.0 C566.7,100.5 565.3,105.2 563.0,110.0 C560.7,114.8 558.2,120.0 556.0,125.0 C553.8,130.0 551.5,135.0 549.7,140.0 C547.9,145.0 546.4,150.0 545.0,155.0 C543.6,160.0 542.8,165.0 541.5,170.0 C540.2,175.0 538.3,180.0 537.0,185.0 C535.7,190.0 534.5,195.2 533.6,200.0 C532.7,204.8 532.0,209.3 531.5,214.0 C531.0,218.7 530.6,223.7 530.4,228.0 C530.1,232.3 530.1,238.0 530.0,240.0 L660,240.0 L660,48.0 Z" fill="#1cb6b0"/>
<path d="M660.0,52.5 C658.3,52.6 653.3,52.8 650.0,53.0 C646.7,53.2 645.0,52.7 640.0,53.8 C635.0,54.9 626.7,56.1 620.0,59.6 C613.3,63.1 605.2,70.6 600.0,75.0 C594.8,79.4 592.2,82.3 589.0,86.0 C585.8,89.7 583.2,93.0 581.0,97.0 C578.8,101.0 577.8,105.3 576.0,110.0 C574.2,114.7 571.9,120.0 570.0,125.0 C568.1,130.0 565.9,135.0 564.5,140.0 C563.1,145.0 562.4,150.0 561.5,155.0 C560.6,160.0 560.1,165.0 559.4,170.0 C558.7,175.0 558.1,180.0 557.5,185.0 C556.9,190.0 556.3,195.2 556.0,200.0 C555.7,204.8 555.7,209.3 555.5,214.0 C555.3,218.7 555.1,223.7 555.0,228.0 C554.9,232.3 555.0,238.0 555.0,240.0 L660,240.0 L660,52.5 Z" fill="#1888d2"/>
<path d="M660.0,55.5 C658.3,55.5 653.3,55.7 650.0,55.8 C646.7,55.9 645.0,55.1 640.0,56.3 C635.0,57.5 626.2,59.8 620.0,63.2 C613.8,66.7 607.5,72.9 603.0,77.0 C598.5,81.1 595.7,84.3 593.0,88.0 C590.3,91.7 588.5,95.3 587.0,99.0 C585.5,102.7 585.0,105.7 583.8,110.0 C582.6,114.3 581.1,120.0 580.0,125.0 C578.9,130.0 578.0,135.0 577.3,140.0 C576.6,145.0 576.4,150.0 576.0,155.0 C575.6,160.0 575.2,165.0 575.1,170.0 C575.0,175.0 575.3,180.0 575.5,185.0 C575.7,190.0 576.0,195.2 576.2,200.0 C576.5,204.8 576.8,209.3 577.0,214.0 C577.2,218.7 577.2,223.7 577.4,228.0 C577.6,232.3 577.9,238.0 578.0,240.0 L660,240.0 L660,55.5 Z" fill="#1a4ed2"/>
<path d="M660.0,59.5 C658.3,59.5 653.3,59.4 650.0,59.5 C646.7,59.6 645.0,58.6 640.0,59.9 C635.0,61.1 625.7,63.8 620.0,67.0 C614.3,70.2 609.7,75.2 606.0,79.0 C602.3,82.8 600.2,86.2 598.0,90.0 C595.8,93.8 594.2,97.8 593.0,102.0 C591.8,106.2 591.1,108.7 590.5,115.0 C589.9,121.3 589.6,132.8 589.4,140.0 C589.2,147.2 589.1,153.7 589.5,158.0 C589.9,162.3 590.6,163.8 592.0,166.0 C593.4,168.2 595.0,169.4 598.0,171.0 C601.0,172.6 606.2,174.0 610.0,175.5 C613.8,177.0 617.0,178.3 621.0,180.0 C625.0,181.7 630.7,183.8 634.0,185.5 C637.3,187.2 639.5,187.6 641.0,190.0 C642.5,192.4 642.7,196.0 643.0,200.0 C643.3,204.0 640.2,211.7 643.0,214.0 C645.8,216.3 657.2,214.0 660.0,214.0 Z" fill="#0c12bc"/>
<path d="M611,240 C610,226 613,207 624,206 C633,205 638,214 640,226 L641,240 Z" fill="#1a90cc"/>
<rect x="440" y="90" width="15" height="150" fill="#1a9a58"/>
<line x1="455.2" y1="104" x2="455.2" y2="240" stroke="#0a3010" stroke-opacity="0.5" stroke-width="0.8"/>
<line x1="456.5" y1="104" x2="456.5" y2="240" stroke="#c89018" stroke-width="1.5"/>
<path d="M446.0,107.6 L455.0,103.0 L458.4,101.5 L461.8,100.1 L465.2,98.6 L468.5,97.1 L471.8,95.7 L475.1,94.3 L478.3,92.9 L481.5,91.4 L484.7,90.0 L487.8,88.6 L491.0,87.3 L494.1,85.9 L497.1,84.5 L500.2,83.2 L503.2,81.8 L506.1,80.5 L509.1,79.1 L512.0,77.8 L514.9,76.5 L517.7,75.2 L520.6,73.9 L523.4,72.6 L526.1,71.4 L528.9,70.1 L531.6,68.8 L534.3,67.6 L536.9,66.4 L539.6,65.1 L542.2,63.9 L544.7,62.7 L547.3,61.5 L549.8,60.3 L552.2,59.1 L554.7,58.0 L557.1,56.8 L559.5,55.7 L561.9,54.5 L564.2,53.4 L566.5,52.3 L568.8,51.1 L571.0,50.0 L573.2,48.9 L575.4,47.9 L577.6,46.8 L579.7,45.7 L581.8,44.7 L583.9,43.6 L585.9,42.6 L587.9,41.5 L589.9,40.5 L591.8,39.5 L593.8,38.5 L595.7,37.5 L597.5,36.5 L599.4,35.5 L601.2,34.6 L602.9,33.6 L604.7,32.7 L606.4,31.7 L608.1,30.8 L609.8,29.9 L611.4,29.0 L613.0,28.1 L614.6,27.2 L616.1,26.3 L617.6,25.4 L619.1,24.6 L620.5,23.7 L622.0,22.9 L623.4,22.0 L624.7,21.2 L626.1,20.4 L627.4,19.6 L628.6,18.8 L629.9,18.0 L631.1,17.2 L632.3,16.5 L633.5,15.7 L634.6,14.9 L635.7,14.2 L635.7,30.8 L634.6,31.5 L633.5,32.3 L632.3,33.1 L631.1,33.8 L629.9,34.6 L628.6,35.4 L627.4,36.2 L626.1,37.0 L624.7,37.8 L623.4,38.6 L622.0,39.5 L620.5,40.3 L619.1,41.2 L617.6,42.0 L616.1,42.9 L614.6,43.8 L613.0,44.6 L611.4,45.5 L609.8,46.4 L608.1,47.3 L606.4,48.1 L604.7,49.0 L602.9,49.9 L601.2,50.8 L599.4,51.7 L597.5,52.6 L595.7,53.5 L593.8,54.4 L591.8,55.4 L589.9,56.3 L587.9,57.2 L585.9,58.2 L583.9,59.1 L581.8,60.0 L579.7,61.0 L577.6,62.0 L575.4,62.9 L573.2,63.9 L571.0,64.9 L568.8,65.9 L566.5,66.9 L564.2,68.0 L561.9,69.0 L559.5,70.1 L557.1,71.1 L554.7,72.2 L552.2,73.3 L549.8,74.4 L547.3,75.6 L544.7,76.7 L542.2,77.9 L539.6,79.1 L536.9,80.4 L534.3,81.6 L531.6,82.8 L528.9,84.1 L526.1,85.4 L523.4,86.6 L520.6,87.9 L517.7,89.2 L514.9,90.5 L512.0,91.8 L509.1,93.1 L506.1,94.5 L503.2,95.8 L500.2,97.2 L497.1,98.5 L494.1,99.9 L491.0,101.3 L487.8,102.6 L484.7,104.0 L481.5,105.4 L478.3,106.9 L475.1,108.3 L471.8,109.7 L468.5,111.1 L465.2,112.6 L461.8,114.1 L458.4,115.5 L455.0,117.0 L446.0,121.6 Z" fill="#22aa3a"/>
<path d="M446.0,107.6 L455.0,103.0 L458.4,101.5 L461.8,100.1 L465.2,98.6 L468.5,97.1 L471.8,95.7 L475.1,94.3 L478.3,92.9 L481.5,91.4 L484.7,90.0 L487.8,88.6 L491.0,87.3 L494.1,85.9 L497.1,84.5 L500.2,83.2 L503.2,81.8 L506.1,80.5 L509.1,79.1 L512.0,77.8 L514.9,76.5 L517.7,75.2 L520.6,73.9 L523.4,72.6 L526.1,71.4 L528.9,70.1 L531.6,68.8 L534.3,67.6 L536.9,66.4 L539.6,65.1 L542.2,63.9 L544.7,62.7 L547.3,61.5 L549.8,60.3 L552.2,59.1 L554.7,58.0 L557.1,56.8 L559.5,55.7 L561.9,54.5 L564.2,53.4 L566.5,52.3 L568.8,51.1 L571.0,50.0 L573.2,48.9 L575.4,47.9 L577.6,46.8 L579.7,45.7 L581.8,44.7 L583.9,43.6 L585.9,42.6 L587.9,41.5 L589.9,40.5 L591.8,39.5 L593.8,38.5 L595.7,37.5 L597.5,36.5 L599.4,35.5 L601.2,34.6 L602.9,33.6 L604.7,32.7 L606.4,31.7 L608.1,30.8 L609.8,29.9 L611.4,29.0 L613.0,28.1 L614.6,27.2 L616.1,26.3 L617.6,25.4 L619.1,24.6 L620.5,23.7 L622.0,22.9 L623.4,22.0 L624.7,21.2 L626.1,20.4 L627.4,19.6 L628.6,18.8 L629.9,18.0 L631.1,17.2 L632.3,16.5 L633.5,15.7 L634.6,14.9 L635.7,14.2 L635.7,27.0 L634.6,27.7 L633.5,28.5 L632.3,29.3 L631.1,30.0 L629.9,30.8 L628.6,31.6 L627.4,32.4 L626.1,33.2 L624.7,34.0 L623.4,34.8 L622.0,35.7 L620.5,36.5 L619.1,37.4 L617.6,38.2 L616.1,39.1 L614.6,40.0 L613.0,40.8 L611.4,41.7 L609.8,42.6 L608.1,43.5 L606.4,44.3 L604.7,45.2 L602.9,46.1 L601.2,47.0 L599.4,47.9 L597.5,48.8 L595.7,49.7 L593.8,50.6 L591.8,51.6 L589.9,52.5 L587.9,53.4 L585.9,54.4 L583.9,55.3 L581.8,56.2 L579.7,57.2 L577.6,58.2 L575.4,59.1 L573.2,60.1 L571.0,61.1 L568.8,62.1 L566.5,63.1 L564.2,64.2 L561.9,65.2 L559.5,66.3 L557.1,67.3 L554.7,68.4 L552.2,69.5 L549.8,70.6 L547.3,71.8 L544.7,72.9 L542.2,74.1 L539.6,75.3 L536.9,76.6 L534.3,77.8 L531.6,79.0 L528.9,80.3 L526.1,81.6 L523.4,82.8 L520.6,84.1 L517.7,85.4 L514.9,86.7 L512.0,88.0 L509.1,89.3 L506.1,90.7 L503.2,92.0 L500.2,93.4 L497.1,94.7 L494.1,96.1 L491.0,97.5 L487.8,98.8 L484.7,100.2 L481.5,101.6 L478.3,103.1 L475.1,104.5 L471.8,105.9 L468.5,107.3 L465.2,108.8 L461.8,110.3 L458.4,111.7 L455.0,113.2 L446.0,117.8 Z" fill="url(#topg2)"/>
<path d="M446.0,121.8 L455.0,117.2 L458.4,115.7 L461.8,114.3 L465.2,112.8 L468.5,111.3 L471.8,109.9 L475.1,108.5 L478.3,107.1 L481.5,105.6 L484.7,104.2 L487.8,102.8 L491.0,101.5 L494.1,100.1 L497.1,98.7 L500.2,97.4 L503.2,96.0 L506.1,94.7 L509.1,93.3 L512.0,92.0 L514.9,90.7 L517.7,89.4 L520.6,88.1 L523.4,86.8 L526.1,85.6 L528.9,84.3 L531.6,83.0 L534.3,81.8 L536.9,80.6 L539.6,79.3 L542.2,78.1 L544.7,76.9 L547.3,75.8 L549.8,74.6 L552.2,73.5 L554.7,72.4 L557.1,71.3 L559.5,70.3 L561.9,69.2 L564.2,68.2 L566.5,67.1 L568.8,66.1 L571.0,65.1 L573.2,64.1 L575.4,63.1 L577.6,62.2 L579.7,61.2 L581.8,60.2 L583.9,59.3 L585.9,58.4 L587.9,57.4 L589.9,56.5 L591.8,55.6 L593.8,54.6 L595.7,53.7 L597.5,52.8 L599.4,51.9 L601.2,51.0 L602.9,50.1 L604.7,49.2 L606.4,48.3 L608.1,47.5 L609.8,46.6 L611.4,45.7 L613.0,44.8 L614.6,44.0 L616.1,43.1 L617.6,42.2 L619.1,41.4 L620.5,40.5 L622.0,39.7 L623.4,38.8 L624.7,38.0 L626.1,37.2 L627.4,36.4 L628.6,35.6 L629.9,34.8 L631.1,34.0 L632.3,33.3 L633.5,32.5 L634.6,31.7 L635.7,31.0" fill="none" stroke="#0a3010" stroke-opacity="0.5" stroke-width="0.8"/>
<path d="M446.0,125.0 L455.0,120.4 L458.4,118.9 L461.8,117.5 L465.2,116.0 L468.5,114.5 L471.8,113.1 L475.1,111.7 L478.3,110.3 L481.5,108.8 L484.7,107.4 L487.8,106.0 L491.0,104.7 L494.1,103.3 L497.1,101.9 L500.2,100.6 L503.2,99.2 L506.1,97.9 L509.1,96.5 L512.0,95.2 L514.9,93.9 L517.7,92.6 L520.6,91.3 L523.4,90.0 L526.1,88.8 L528.9,87.5 L531.6,86.2 L534.3,85.0 L536.9,83.8 L539.6,82.5 L542.2,81.3 L544.7,80.1 L547.3,79.0 L549.8,77.8 L552.2,76.7 L554.7,75.6 L557.1,74.5 L559.5,73.5 L561.9,72.4 L564.2,71.4 L566.5,70.3 L568.8,69.3 L571.0,68.3 L573.2,67.3 L575.4,66.3 L577.6,65.4 L579.7,64.4 L581.8,63.4 L583.9,62.5 L585.9,61.6 L587.9,60.6 L589.9,59.7 L591.8,58.8 L593.8,57.8 L595.7,56.9 L597.5,56.0 L599.4,55.1 L601.2,54.2 L602.9,53.3 L604.7,52.4 L606.4,51.5 L608.1,50.7 L609.8,49.8 L611.4,48.9 L613.0,48.0 L614.6,47.2 L616.1,46.3 L617.6,45.4 L619.1,44.6 L620.5,43.7 L622.0,42.9 L623.4,42.0 L624.7,41.2 L626.1,40.4 L627.4,39.6 L628.6,38.8 L629.9,38.0 L631.1,37.2 L632.3,36.5 L633.5,35.7 L634.6,34.9 L635.7,34.2 L643,31.5 L650,28" fill="none" stroke="#b0c020" stroke-opacity="0.7" stroke-width="2.2"/>
<path d="M446.0,123.8 L455.0,119.2 L458.4,117.7 L461.8,116.3 L465.2,114.8 L468.5,113.3 L471.8,111.9 L475.1,110.5 L478.3,109.1 L481.5,107.6 L484.7,106.2 L487.8,104.8 L491.0,103.5 L494.1,102.1 L497.1,100.7 L500.2,99.4 L503.2,98.0 L506.1,96.7 L509.1,95.3 L512.0,94.0 L514.9,92.7 L517.7,91.4 L520.6,90.1 L523.4,88.8 L526.1,87.6 L528.9,86.3 L531.6,85.0 L534.3,83.8 L536.9,82.6 L539.6,81.3 L542.2,80.1 L544.7,78.9 L547.3,77.8 L549.8,76.6 L552.2,75.5 L554.7,74.4 L557.1,73.3 L559.5,72.3 L561.9,71.2 L564.2,70.2 L566.5,69.1 L568.8,68.1 L571.0,67.1 L573.2,66.1 L575.4,65.1 L577.6,64.2 L579.7,63.2 L581.8,62.2 L583.9,61.3 L585.9,60.4 L587.9,59.4 L589.9,58.5 L591.8,57.6 L593.8,56.6 L595.7,55.7 L597.5,54.8 L599.4,53.9 L601.2,53.0 L602.9,52.1 L604.7,51.2 L606.4,50.3 L608.1,49.5 L609.8,48.6 L611.4,47.7 L613.0,46.8 L614.6,46.0 L616.1,45.1 L617.6,44.2 L619.1,43.4 L620.5,42.5 L622.0,41.7 L623.4,40.8 L624.7,40.0 L626.1,39.2 L627.4,38.4 L628.6,37.6 L629.9,36.8 L631.1,36.0 L632.3,35.3 L633.5,34.5 L634.6,33.7 L635.7,33.0 L642,30 L648,26.5" fill="none" stroke="#d08018" stroke-opacity="0.8" stroke-width="1.4"/>
<path d="M446.0,122.8 L455.0,118.2 L458.4,116.7 L461.8,115.3 L465.2,113.8 L468.5,112.3 L471.8,110.9 L475.1,109.5 L478.3,108.1 L481.5,106.6 L484.7,105.2 L487.8,103.8 L491.0,102.5 L494.1,101.1 L497.1,99.7 L500.2,98.4 L503.2,97.0 L506.1,95.7 L509.1,94.3 L512.0,93.0 L514.9,91.7 L517.7,90.4 L520.6,89.1 L523.4,87.8 L526.1,86.6 L528.9,85.3 L531.6,84.0 L534.3,82.8 L536.9,81.6 L539.6,80.3 L542.2,79.1 L544.7,77.9 L547.3,76.8 L549.8,75.6 L552.2,74.5 L554.7,73.4 L557.1,72.3 L559.5,71.3 L561.9,70.2 L564.2,69.2 L566.5,68.1 L568.8,67.1 L571.0,66.1 L573.2,65.1 L575.4,64.1 L577.6,63.2 L579.7,62.2 L581.8,61.2 L583.9,60.3 L585.9,59.4 L587.9,58.4 L589.9,57.5 L591.8,56.6 L593.8,55.6 L595.7,54.7 L597.5,53.8 L599.4,52.9 L601.2,52.0 L602.9,51.1 L604.7,50.2 L606.4,49.3 L608.1,48.5 L609.8,47.6 L611.4,46.7 L613.0,45.8 L614.6,45.0 L616.1,44.1 L617.6,43.2 L619.1,42.4 L620.5,41.5 L622.0,40.7 L623.4,39.8 L624.7,39.0 L626.1,38.2 L627.4,37.4 L628.6,36.6 L629.9,35.8 L631.1,35.0 L632.3,34.3 L633.5,33.5 L634.6,32.7 L635.7,32.0 L641,28.5 L646.5,25" fill="none" stroke="url(#redg2)" stroke-width="2.0"/>
<rect x="440" y="10" width="220" height="230" fill="url(#mesh)"/>
</g>
<line x1="444" y1="199.3" x2="493" y2="199.3" stroke="#203040" stroke-opacity="0.5" stroke-width="0.7"/>
<rect x="471.2" y="212.4" width="61.8" height="6.6" fill="#000"/>
<circle cx="455" cy="119.5" r="16.3" fill="#c8c6c6"/>
<text x="455" y="125.8" font-size="17" fill="#ee1111" text-anchor="middle">1</text>
<circle cx="627.2" cy="119.6" r="16.3" fill="#c8c6c6"/>
<text x="627.2" y="125.89999999999999" font-size="17" fill="#ee1111" text-anchor="middle">3</text>
<circle cx="650.5" cy="232.6" r="16.3" fill="#c8c6c6"/>
<text x="650.5" y="238.9" font-size="17" fill="#ee1111" text-anchor="middle">2</text>
<text x="88" y="18" font-size="11.9" font-weight="bold" fill="#1a1a1a" textLength="164.5" lengthAdjust="spacingAndGlyphs">Center, Small, Low Perm: FLVEL</text>
<text x="440" y="18.6" font-size="11.9" font-weight="bold" fill="#1a1a1a" textLength="175.2" lengthAdjust="spacingAndGlyphs">Center, Small, Low Perm: STRAIN</text>
<text x="286.5" y="11.5" font-size="11.8" fill="#3a3a3a" textLength="71.5" lengthAdjust="spacingAndGlyphs">“Tumor” Path</text>
<text x="312.7" y="21" font-size="11.8" fill="#3a3a3a" textLength="24.3" lengthAdjust="spacingAndGlyphs">x = 0</text>
<text x="84.9" y="88.9" font-size="11.8" fill="#3a3a3a" textLength="61.7" lengthAdjust="spacingAndGlyphs">“No Tumor”</text>
<text x="87.7" y="104.8" font-size="11.8" fill="#3a3a3a" textLength="22.5" lengthAdjust="spacingAndGlyphs">Path</text>
<text x="98.2" y="120.2" font-size="11.8" fill="#3a3a3a" textLength="24.6" lengthAdjust="spacingAndGlyphs">x = 0</text>
<text x="316.1" y="238.7" font-size="11.8" fill="#3a3a3a" textLength="54.9" lengthAdjust="spacingAndGlyphs">x ≈ 400μm</text>
<line x1="58.4" y1="262.7" x2="58.4" y2="390.3" stroke="#d9d9d9" stroke-width="1"/>
<line x1="58.4" y1="390.3" x2="305.6" y2="390.3" stroke="#d9d9d9" stroke-width="1"/>
<text x="45.8" y="266.4" font-size="11" fill="#404040" text-anchor="end">2000</text>
<text x="45.8" y="298.3" font-size="11" fill="#404040" text-anchor="end">1500</text>
<text x="45.8" y="330.2" font-size="11" fill="#404040" text-anchor="end">1000</text>
<text x="45.8" y="362.1" font-size="11" fill="#404040" text-anchor="end">500</text>
<text x="45.8" y="394.0" font-size="11" fill="#404040" text-anchor="end">0</text>
<text x="58.6" y="411.4" font-size="11" fill="#404040" text-anchor="middle">0</text>
<text x="120.3" y="411.4" font-size="11" fill="#404040" text-anchor="middle">100</text>
<text x="182" y="411.4" font-size="11" fill="#404040" text-anchor="middle">200</text>
<text x="243.7" y="411.4" font-size="11" fill="#404040" text-anchor="middle">300</text>
<text x="305.4" y="411.4" font-size="11" fill="#404040" text-anchor="middle">400</text>
<text x="121.4" y="428.8" font-size="11.4" font-weight="bold" fill="#262626" textLength="120" lengthAdjust="spacingAndGlyphs">Distance from PV (μm)</text>
<text transform="translate(15.2,382) rotate(-90)" x="0" y="0" font-size="11.4" font-weight="bold" fill="#262626" textLength="114" lengthAdjust="spacingAndGlyphs">Fluid Velocity (μm/s)</text>
<polyline points="58.6,382.3 62.0,382.8 65.8,382.3 68.5,381.5 71.1,381.2 74.0,382.2 78.3,382.6 82.0,382.0 86.4,382.6 92.0,381.5 98.0,380.3 104.0,379.2 112.0,378.2 126.7,376.5 144.7,374.6 162.6,373.3 177.9,372.6 192.3,372.9 206.6,374.7 222.8,377.4 240.7,380.1 256.9,382.3 262.0,382.2 267.6,381.5 270.3,379.8 272.1,378.7 273.4,381.9" fill="none" stroke="#5ea64a" stroke-width="3.2" stroke-linejoin="round"/>
<polyline points="58.6,382.3 62.0,382.8 65.8,382.3 68.5,381.5 71.1,381.2 74.0,382.2 78.3,382.6 82.0,382.0 86.4,382.6 92.0,381.5 98.0,380.3 104.0,379.2 112.0,378.2 126.7,376.5 144.7,374.6 162.6,373.3 177.9,372.6 192.3,372.9 206.6,374.7 222.8,377.4 240.7,380.1 256.9,382.3 262.0,382.2 267.6,381.5 270.3,379.8 272.1,378.7 273.4,381.9" fill="none" stroke="#5b8fb0" stroke-opacity="0.8" stroke-width="1" stroke-linejoin="round"/>
<polyline points="58.3,336.8 59.8,338.1 62.0,340.0 64.0,341.1 65.5,338.0 66.4,336.3 68.2,338.7 70.6,341.1 74.0,341.5 77.9,341.1 80.0,339.5 82.7,336.9 85.0,336.2 87.5,335.1 89.9,330.3 92.0,326.5 94.7,322.5 97.7,320.1 100.7,317.7 102.5,312.9 104.5,311.5 106.7,309.2 108.5,305.0 110.0,303.5 111.5,302.0 112.3,303.2 112.3,390.0 235.3,390.0 235.3,387.3 240.0,387.6 244.3,387.8 249.7,389.1 256.9,388.7 260.4,386.4 263.0,386.8 265.8,387.3" fill="none" stroke="#7a34a0" stroke-width="3.2" stroke-linejoin="round"/>
<polyline points="58.3,336.8 59.8,338.1 62.0,340.0 64.0,341.1 65.5,338.0 66.4,336.3 68.2,338.7 70.6,341.1 74.0,341.5 77.9,341.1 80.0,339.5 82.7,336.9 85.0,336.2 87.5,335.1 89.9,330.3 92.0,326.5 94.7,322.5 97.7,320.1 100.7,317.7 102.5,312.9 104.5,311.5 106.7,309.2 108.5,305.0 110.0,303.5 111.5,302.0 112.3,303.2 112.3,390.0 235.3,390.0 235.3,387.3 240.0,387.6 244.3,387.8 249.7,389.1 256.9,388.7 260.4,386.4 263.0,386.8 265.8,387.3" fill="none" stroke="#e07a5a" stroke-opacity="0.85" stroke-width="1" stroke-linejoin="round"/>
<line x1="67.2" y1="444.8" x2="87.2" y2="444.8" stroke="#70ad47" stroke-width="2.8"/>
<text x="88.2" y="448.8" font-size="11.6" fill="#404040" textLength="176.6" lengthAdjust="spacingAndGlyphs">Center Small Low Perm No Tumor</text>
<line x1="67.2" y1="460.0" x2="87.2" y2="460.0" stroke="#7030a0" stroke-width="2.8"/>
<text x="88.2" y="464.0" font-size="11.6" fill="#404040" textLength="158.8" lengthAdjust="spacingAndGlyphs">Center Small Low Perm Tumor</text>
<line x1="67.2" y1="474.6" x2="87.2" y2="474.6" stroke="#9dc3e6" stroke-width="1.0"/>
<text x="88.2" y="478.6" font-size="11.6" fill="#404040" textLength="179.2" lengthAdjust="spacingAndGlyphs">Center Small High Perm No Tumor</text>
<line x1="67.2" y1="490.0" x2="87.2" y2="490.0" stroke="#f4b183" stroke-width="1.0"/>
<text x="88.2" y="494.0" font-size="11.6" fill="#404040" textLength="161.8" lengthAdjust="spacingAndGlyphs">Center Small High Perm Tumor</text>
<line x1="386.5" y1="258.3" x2="386.5" y2="388" stroke="#d9d9d9" stroke-width="1"/>
<line x1="386.5" y1="388" x2="634.3" y2="388" stroke="#d9d9d9" stroke-width="1"/>
<text x="374.6" y="262.3" font-size="11" fill="#404040" text-anchor="end">0.1</text>
<text x="374.6" y="288.1" font-size="11" fill="#404040" text-anchor="end">0.08</text>
<text x="374.6" y="314.0" font-size="11" fill="#404040" text-anchor="end">0.06</text>
<text x="374.6" y="339.8" font-size="11" fill="#404040" text-anchor="end">0.04</text>
<text x="374.6" y="365.6" font-size="11" fill="#404040" text-anchor="end">0.02</text>
<text x="374.6" y="391.4" font-size="11" fill="#404040" text-anchor="end">0</text>
<text x="386.3" y="408" font-size="11" fill="#404040" text-anchor="middle">0</text>
<text x="448.3" y="408" font-size="11" fill="#404040" text-anchor="middle">100</text>
<text x="510.3" y="408" font-size="11" fill="#404040" text-anchor="middle">200</text>
<text x="572.3" y="408" font-size="11" fill="#404040" text-anchor="middle">300</text>
<text x="634.3" y="408" font-size="11" fill="#404040" text-anchor="middle">400</text>
<text x="449.9" y="426.2" font-size="11.4" font-weight="bold" fill="#262626" textLength="119.4" lengthAdjust="spacingAndGlyphs">Distance from PV (μm)</text>
<text transform="translate(345.2,365.6) rotate(-90)" x="0" y="0" font-size="11.4" font-weight="bold" fill="#262626" textLength="82.60000000000002" lengthAdjust="spacingAndGlyphs">Strain (μm/μm)</text>
<polyline points="386.6,350.2 388.5,349.0 390.8,348.2 394.7,349.5 399.9,350.2 402.5,349.3 405.8,346.9 407.8,348.9 409.7,348.2 413.0,346.7 416.9,349.5 422.1,350.2 435.1,350.2 448.1,350.8 463.0,353.5 477.9,357.0 495.9,363.3 513.8,369.6 531.7,375.0 538.9,377.7 549.7,377.1 567.6,375.9 580.0,374.1 586.1,373.3 596.5,371.7 598.4,371.4 598.4,367.8 601.7,367.8 601.7,364.5 601.7,373.0" fill="none" stroke="#5ea64a" stroke-width="3.2" stroke-linejoin="round"/>
<polyline points="386.6,350.2 388.5,349.0 390.8,348.2 394.7,349.5 399.9,350.2 402.5,349.3 405.8,346.9 407.8,348.9 409.7,348.2 413.0,346.7 416.9,349.5 422.1,350.2 435.1,350.2 448.1,350.8 463.0,353.5 477.9,357.0 495.9,363.3 513.8,369.6 531.7,375.0 538.9,377.7 549.7,377.1 567.6,375.9 580.0,374.1 586.1,373.3 596.5,371.7 598.4,371.4 598.4,367.8 601.7,367.8 601.7,364.5 601.7,373.0" fill="none" stroke="#5b8fb0" stroke-opacity="0.8" stroke-width="1" stroke-linejoin="round"/>
<polyline points="386.6,343.0 388.9,340.4 391.5,339.8 394.7,343.0 396.0,341.1 398.6,339.8 401.2,340.7 405.1,339.8 409.1,342.4 413.0,343.7 415.6,345.0 419.5,348.9 423.4,353.5 427.3,357.4 429.9,362.6 433.2,367.8 436.4,373.0 439.0,377.6 440.3,380.2 440.3,387.0 564.6,387.0 564.6,382.1 573.0,382.3 579.5,383.4 586.1,383.2 591.3,383.7 594.5,386.0" fill="none" stroke="#7a34a0" stroke-width="3.2" stroke-linejoin="round"/>
<polyline points="386.6,343.0 388.9,340.4 391.5,339.8 394.7,343.0 396.0,341.1 398.6,339.8 401.2,340.7 405.1,339.8 409.1,342.4 413.0,343.7 415.6,345.0 419.5,348.9 423.4,353.5 427.3,357.4 429.9,362.6 433.2,367.8 436.4,373.0 439.0,377.6 440.3,380.2 440.3,387.0 564.6,387.0 564.6,382.1 573.0,382.3 579.5,383.4 586.1,383.2 591.3,383.7 594.5,386.0" fill="none" stroke="#e07a5a" stroke-opacity="0.85" stroke-width="1" stroke-linejoin="round"/>
<line x1="394.2" y1="444.8" x2="414.2" y2="444.8" stroke="#70ad47" stroke-width="2.8"/>
<text x="415.2" y="448.8" font-size="11.6" fill="#404040" textLength="176.6" lengthAdjust="spacingAndGlyphs">Center Small Low Perm No Tumor</text>
<line x1="394.2" y1="460.0" x2="414.2" y2="460.0" stroke="#7030a0" stroke-width="2.8"/>
<text x="415.2" y="464.0" font-size="11.6" fill="#404040" textLength="158.8" lengthAdjust="spacingAndGlyphs">Center Small Low Perm Tumor</text>
<line x1="394.2" y1="474.6" x2="414.2" y2="474.6" stroke="#9dc3e6" stroke-width="1.0"/>
<text x="415.2" y="478.6" font-size="11.6" fill="#404040" textLength="179.2" lengthAdjust="spacingAndGlyphs">Center Small High Perm No Tumor</text>
<line x1="394.2" y1="490.0" x2="414.2" y2="490.0" stroke="#f4b183" stroke-width="1.0"/>
<text x="415.2" y="494.0" font-size="11.6" fill="#404040" textLength="161.8" lengthAdjust="spacingAndGlyphs">Center Small High Perm Tumor</text>
</svg></body></html>
